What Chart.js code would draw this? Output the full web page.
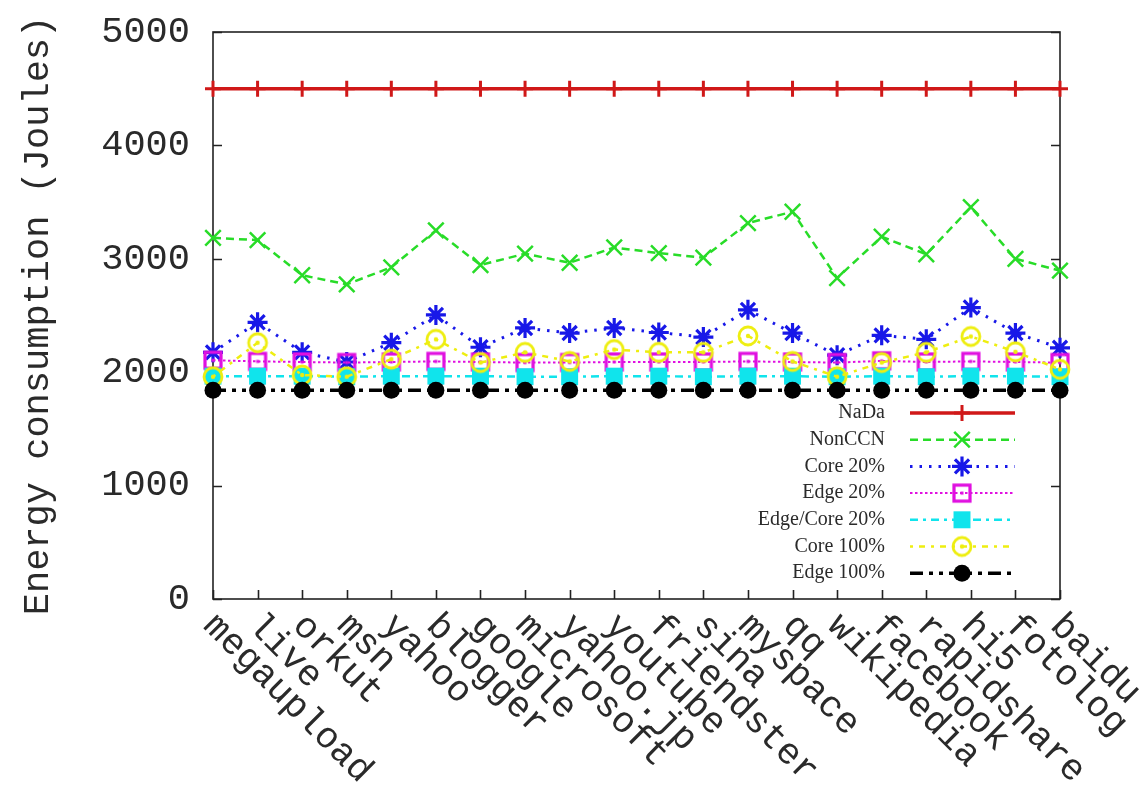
<!DOCTYPE html>
<html>
<head>
<meta charset="utf-8">
<title>Energy consumption per site</title>
<script src="https://cdn.jsdelivr.net/npm/chart.js@4.4.0/dist/chart.umd.min.js"></script>
<style>
    html, body { margin: 0; padding: 0; background: #fff; }
    #wrap { width: 1144px; height: 796px; }
</style>
</head>
<body>
<div id="wrap"><canvas id="energyChart" width="1144" height="796"></canvas></div>
<script>
// --- Data ---
const sites = ['megaupload', 'live', 'orkut', 'msn', 'yahoo', 'blogger', 'google', 'microsoft', 'yahoo.jp', 'youtube',
    'friendster', 'sina', 'myspace', 'qq', 'wikipedia', 'facebook', 'rapidshare', 'hi5', 'fotolog', 'baidu'];
const yTicks = [0, 1000, 2000, 3000, 4000, 5000];

const nada = [4500, 4500, 4500, 4500, 4500, 4500, 4500, 4500, 4500, 4500,
    4500, 4500, 4500, 4500, 4500, 4500, 4500, 4500, 4500, 4500];
const nonCcn = [3185, 3165, 2855, 2775, 2925, 3250, 2945, 3045, 2965, 3100,
    3050, 3010, 3315, 3415, 2830, 3195, 3040, 3455, 3000, 2895];
const core20 = [2175, 2440, 2175, 2090, 2260, 2505, 2220, 2390, 2345, 2390,
    2350, 2310, 2550, 2345, 2150, 2325, 2290, 2570, 2345, 2215];
const edge20 = [2105, 2095, 2090, 2085, 2090, 2095, 2090, 2085, 2085, 2090,
    2090, 2090, 2095, 2090, 2085, 2100, 2090, 2095, 2090, 2085];
const edgeCore20 = [1965, 1965, 1965, 1960, 1965, 1965, 1965, 1960, 1960, 1965,
    1965, 1960, 1965, 1965, 1960, 1965, 1960, 1965, 1965, 1960];
const core100 = [1960, 2260, 1975, 1960, 2115, 2290, 2085, 2175, 2095, 2200,
    2175, 2175, 2320, 2095, 1960, 2085, 2175, 2315, 2180, 2025];
const edge100 = [1840, 1840, 1840, 1840, 1840, 1840, 1840, 1840, 1840, 1840,
    1840, 1840, 1840, 1840, 1840, 1840, 1840, 1840, 1840, 1840];

// --- Helper: small canvas markers (gnuplot style box / circle with centre dot) ---
const makeMarker = (size, draw) => {
    const c = document.createElement('canvas');
    c.width = size;
    c.height = size;
    draw(c.getContext('2d'), size);
    return c;
};

const boxDot = makeMarker(22, (g, s) => {
    g.strokeStyle = '#e010e0';
    g.lineWidth = 3.2;
    g.strokeRect(3, 3, s - 6, s - 6);
    g.fillStyle = '#e010e0';
    g.fillRect(s / 2 - 1.5, s / 2 - 1.5, 3, 3);
});

const circleDot = makeMarker(24, (g, s) => {
    g.strokeStyle = '#eeee10';
    g.lineWidth = 2.8;
    g.beginPath();
    g.arc(s / 2, s / 2, s / 2 - 3, 0, Math.PI * 2);
    g.stroke();
    g.fillStyle = '#eeee10';
    g.beginPath();
    g.arc(s / 2, s / 2, 2.2, 0, Math.PI * 2);
    g.fill();
});

const monoFont = 'Liberation Mono, Courier New, monospace';
const serifFont = 'Liberation Serif, Times New Roman, serif';
const textColor = '#2a2a2a';

// --- Plugins ---

// frame with inward ticks, drawn under the data
const framePlugin = {
    id: 'frame',
    beforeDatasetsDraw(chart) {
        const { ctx, chartArea: a, scales: { x, y } } = chart;
        ctx.save();
        ctx.strokeStyle = '#222';
        ctx.lineWidth = 1.6;
        ctx.strokeRect(a.left, a.top, a.right - a.left, a.bottom - a.top);
        ctx.beginPath();
        yTicks.forEach(v => {
            const py = Math.round(y.getPixelForValue(v)) + 0.5;
            ctx.moveTo(a.left, py); ctx.lineTo(a.left + 9, py);
            ctx.moveTo(a.right, py); ctx.lineTo(a.right - 9, py);
        });
        sites.forEach((s, i) => {
            const px = Math.round(x.getPixelForTick(i)) + 0.5;
            ctx.moveTo(px, a.bottom); ctx.lineTo(px, a.bottom - 9);
        });
        ctx.stroke();
        ctx.restore();
    }
};

// rotated site names below the axis
const siteLabelPlugin = {
    id: 'siteLabels',
    afterDraw(chart) {
        const { ctx, scales: { x } } = chart;
        ctx.save();
        ctx.font = `37px ${monoFont}`;
        ctx.fillStyle = textColor;
        ctx.textAlign = 'left';
        ctx.textBaseline = 'middle';
        sites.forEach((s, i) => {
            ctx.save();
            ctx.translate(x.getPixelForTick(i) - 4, 620);
            ctx.rotate(Math.PI / 4);
            ctx.fillText(s, 0, 0);
            ctx.restore();
        });
        ctx.restore();
    }
};

// gnuplot-like key: label, line sample, marker
const keyPlugin = {
    id: 'key',
    afterDatasetsDraw(chart) {
        const { ctx } = chart;
        const textRight = 885, lineL = 910, lineR = 1015, mid = 962;
        ctx.save();
        ctx.font = `20px ${serifFont}`;
        ctx.textAlign = 'right';
        ctx.textBaseline = 'middle';
        chart.data.datasets.forEach((ds, i) => {
            const rowY = 413 + i * 26.7;
            ctx.fillStyle = textColor;
            ctx.fillText(ds.label, textRight, rowY);

            ctx.save();
            ctx.strokeStyle = ds.borderColor;
            ctx.lineWidth = ds.borderWidth;
            ctx.setLineDash(ds.borderDash || []);
            ctx.beginPath();
            ctx.moveTo(lineL, rowY);
            ctx.lineTo(lineR, rowY);
            ctx.stroke();
            ctx.restore();

            ctx.save();
            ctx.strokeStyle = ds.pointBorderColor;
            ctx.fillStyle = ds.pointBackgroundColor;
            ctx.lineWidth = ds.pointBorderWidth;
            Chart.helpers.drawPoint(ctx, {
                pointStyle: ds.pointStyle,
                radius: ds.pointRadius,
                borderWidth: ds.pointBorderWidth,
                rotation: 0
            }, mid, rowY);
            ctx.restore();
        });
        ctx.restore();
    }
};

// --- Chart ---
const ctx = document.getElementById('energyChart').getContext('2d');
const energyChart = new Chart(ctx, {
    type: 'line',
    data: {
        labels: sites,
        datasets: [{
            label: 'NaDa',
            data: nada,
            borderColor: '#d01818',
            borderWidth: 3.5,
            pointStyle: 'cross',
            pointRadius: 8,
            pointBorderWidth: 3,
            pointBorderColor: '#d01818',
            pointBackgroundColor: '#d01818',
            order: 7
        }, {
            label: 'NonCCN',
            data: nonCcn,
            borderColor: '#28dc28',
            borderWidth: 2.5,
            borderDash: [8, 5],
            pointStyle: 'crossRot',
            pointRadius: 11,
            pointBorderWidth: 2.5,
            pointBorderColor: '#28dc28',
            pointBackgroundColor: '#28dc28',
            order: 6
        }, {
            label: 'Core 20%',
            data: core20,
            borderColor: '#1818e8',
            borderWidth: 3,
            borderDash: [2.5, 7],
            pointStyle: 'star',
            pointRadius: 10,
            pointBorderWidth: 3.2,
            pointBorderColor: '#1818e8',
            pointBackgroundColor: '#1818e8',
            order: 5
        }, {
            label: 'Edge 20%',
            data: edge20,
            borderColor: '#e010e0',
            borderWidth: 2,
            borderDash: [2.5, 2.5],
            pointStyle: boxDot,
            pointRadius: 9,
            pointBorderWidth: 3,
            pointBorderColor: '#e010e0',
            pointBackgroundColor: '#e010e0',
            order: 4
        }, {
            label: 'Edge/Core 20%',
            data: edgeCore20,
            borderColor: '#10e4ec',
            borderWidth: 2.5,
            borderDash: [8, 5, 3, 5],
            pointStyle: 'rect',
            pointRadius: 12,
            pointBorderWidth: 0,
            pointBorderColor: '#10e4ec',
            pointBackgroundColor: '#10e4ec',
            order: 3
        }, {
            label: 'Core 100%',
            data: core100,
            borderColor: '#eeee10',
            borderWidth: 2.5,
            borderDash: [3, 6, 6, 6],
            pointStyle: circleDot,
            pointRadius: 10,
            pointBorderWidth: 2.8,
            pointBorderColor: '#eeee10',
            pointBackgroundColor: '#eeee10',
            order: 2
        }, {
            label: 'Edge 100%',
            data: edge100,
            borderColor: '#000',
            borderWidth: 3.5,
            borderDash: [13, 6, 4, 6, 4, 6],
            pointStyle: 'circle',
            pointRadius: 8.5,
            pointBorderWidth: 0,
            pointBorderColor: '#000',
            pointBackgroundColor: '#000',
            order: 1
        }].map(ds => Object.assign({ tension: 0, fill: false, clip: false, pointHoverRadius: ds.pointRadius }, ds))
    },
    options: {
        responsive: false,
        animation: false,
        layout: { padding: { top: 32, right: 84, left: 0, bottom: 0 } },
        plugins: {
            legend: { display: false },
            tooltip: { enabled: false }
        },
        scales: {
            x: {
                type: 'category',
                offset: false,
                grid: { display: false, drawTicks: false },
                border: { display: false },
                ticks: { display: false },
                afterFit: (scale) => {
                    scale.height = 197;
                    scale.paddingLeft = 0;
                    scale.paddingRight = 0;
                }
            },
            y: {
                min: 0,
                max: 5000,
                afterBuildTicks: (scale) => { scale.ticks = yTicks.map(v => ({ value: v })); },
                grid: { display: false, drawTicks: false },
                border: { display: false },
                ticks: {
                    padding: 23,
                    color: textColor,
                    font: { family: monoFont, size: 37 },
                    callback: (value) => String(value)
                },
                title: {
                    display: true,
                    text: 'Energy consumption (Joules)',
                    color: textColor,
                    font: { family: monoFont, size: 37 },
                    padding: { top: 16, bottom: 0 }
                },
                afterFit: (scale) => {
                    scale.width = 213;
                    scale.paddingTop = 0;
                    scale.paddingBottom = 0;
                }
            }
        }
    },
    plugins: [framePlugin, siteLabelPlugin, keyPlugin]
});
</script>
</body>
</html>
